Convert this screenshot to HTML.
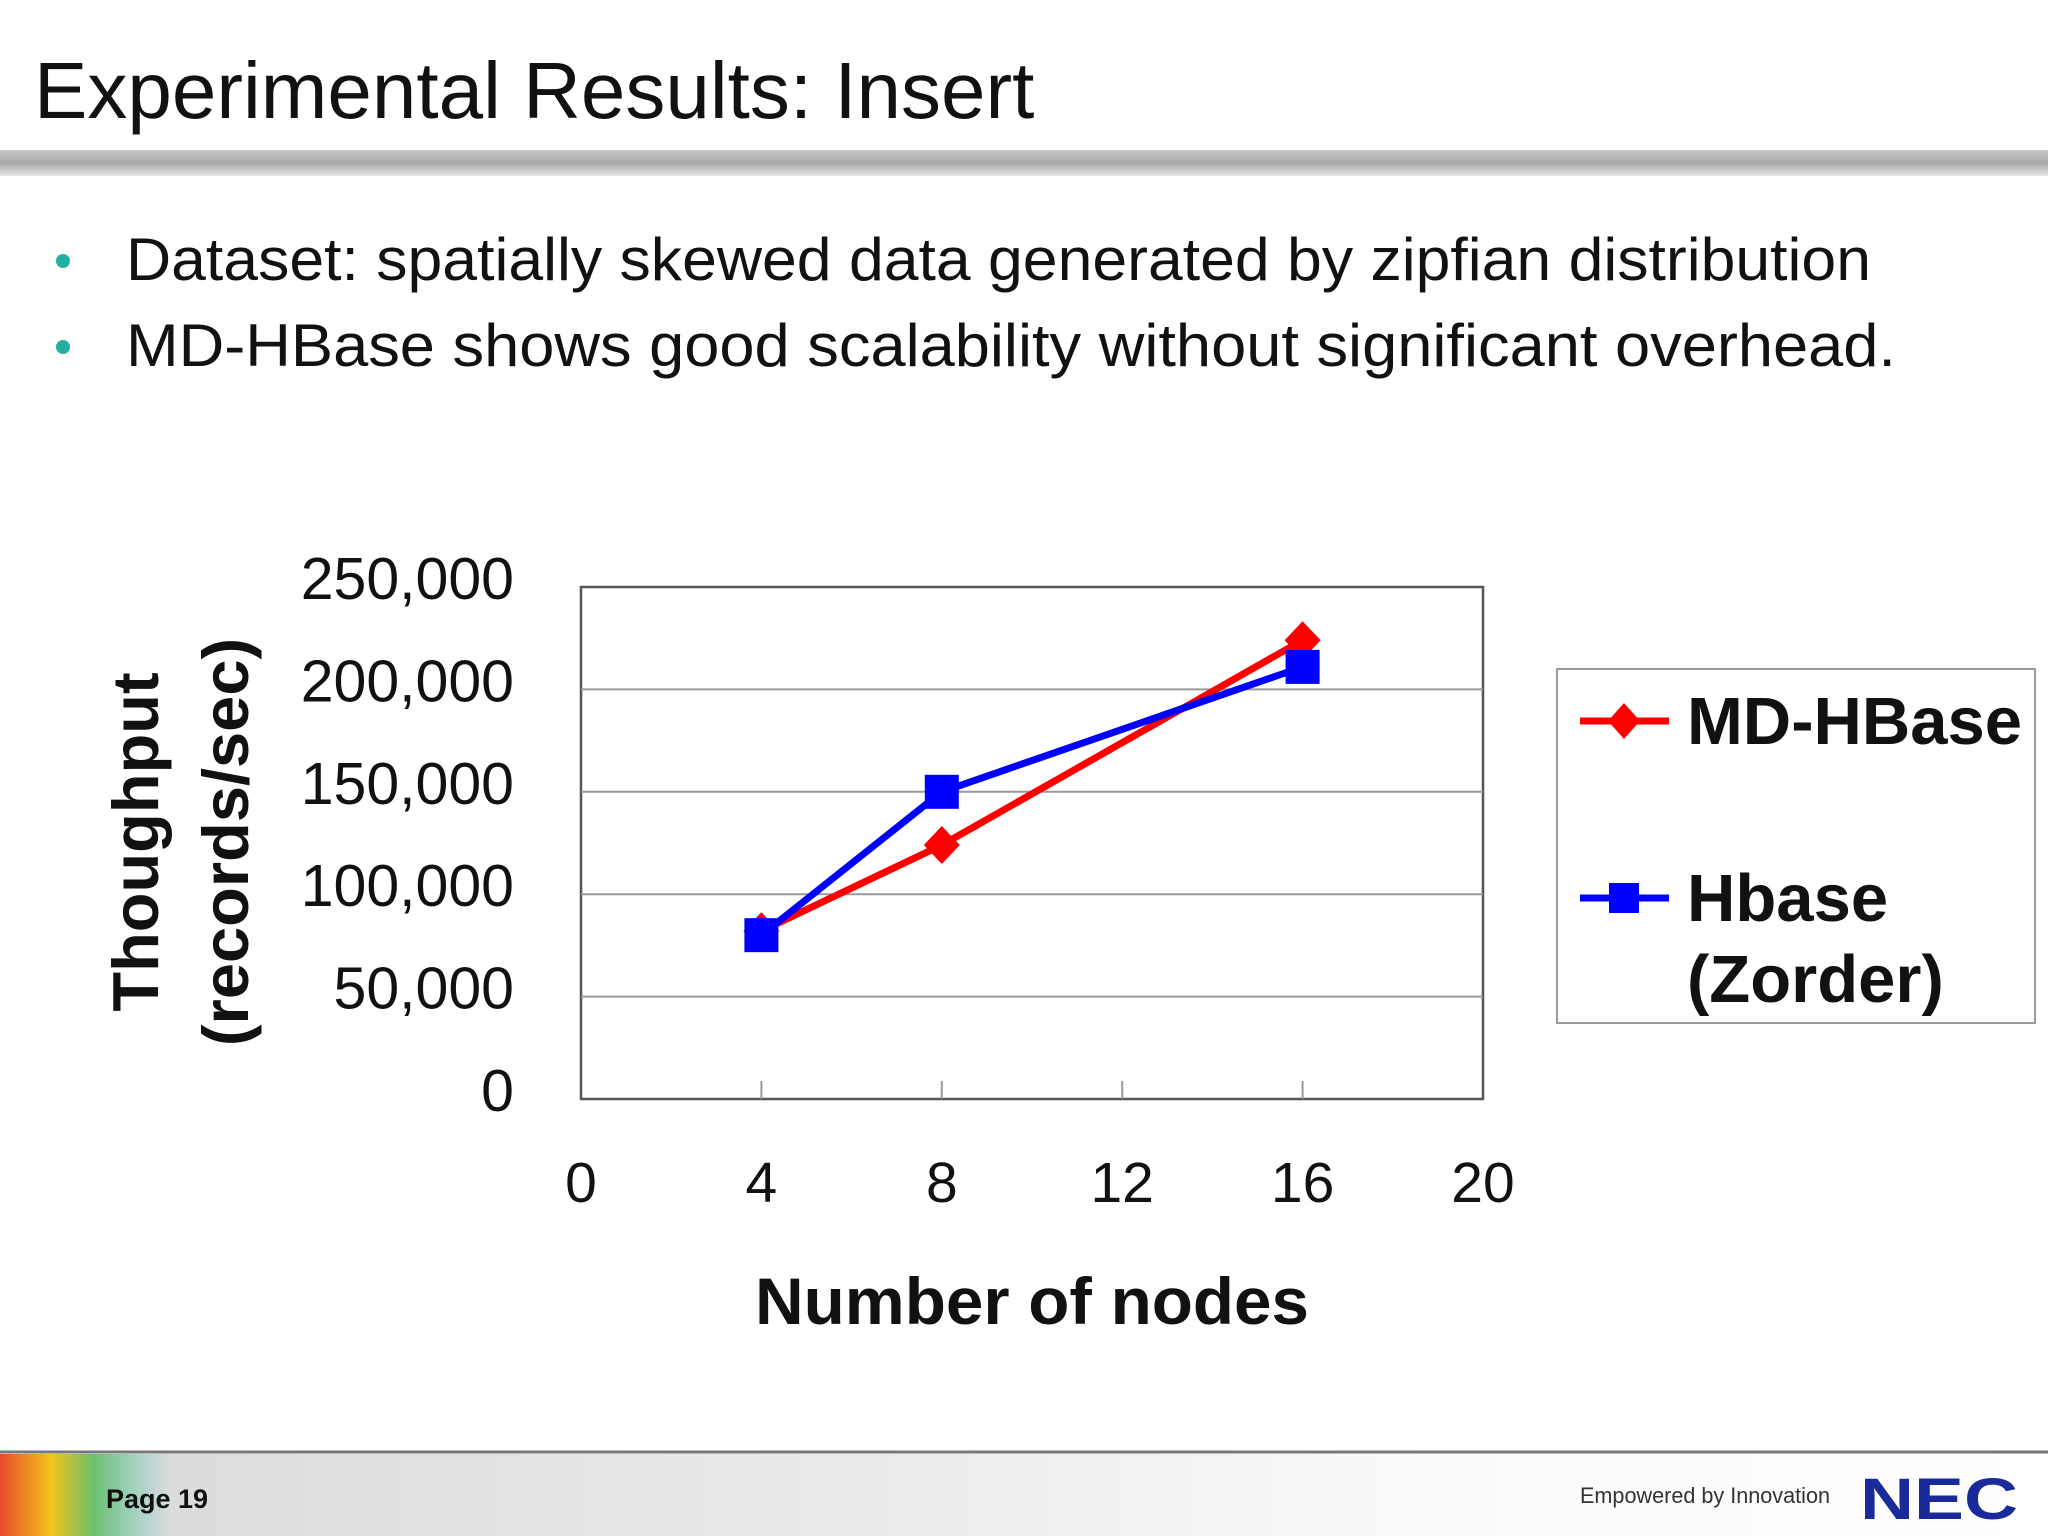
<!DOCTYPE html>
<html><head><meta charset="utf-8"><style>
html,body{margin:0;padding:0;background:#fff}
svg{display:block;font-family:"Liberation Sans",Arial,sans-serif}
</style></head><body>
<svg width="2048" height="1536" viewBox="0 0 2048 1536" xmlns="http://www.w3.org/2000/svg">
<defs>
<linearGradient id="bar" x1="0" y1="0" x2="0" y2="1"><stop offset="0" stop-color="#c8c8c8"/><stop offset="0.5" stop-color="#a9a9a9"/><stop offset="1" stop-color="#e6e6e6"/></linearGradient>
<linearGradient id="foot" x1="0" y1="0" x2="1" y2="0"><stop offset="0" stop-color="#d8d8d8"/><stop offset="0.45" stop-color="#ececec"/><stop offset="0.7" stop-color="#fafafa"/><stop offset="1" stop-color="#ffffff"/></linearGradient>
<linearGradient id="rb" x1="0" y1="0" x2="1" y2="0"><stop offset="0" stop-color="#e84a2a"/><stop offset="0.3" stop-color="#f2c51a"/><stop offset="0.55" stop-color="#6cc06c"/><stop offset="1" stop-color="#5ec8c8" stop-opacity="0"/></linearGradient>
</defs>
<text x="34" y="118" font-size="80" fill="#111">Experimental Results: Insert</text>
<rect x="0" y="150" width="2048" height="26" fill="url(#bar)"/>
<g font-size="60" fill="#111">
<circle cx="63" cy="261" r="7" fill="#22b0a0"/>
<text x="126" y="280" textLength="1745" lengthAdjust="spacingAndGlyphs">Dataset: spatially skewed data generated by zipfian distribution</text>
<circle cx="63" cy="347" r="7" fill="#22b0a0"/>
<text x="126" y="366" textLength="1770" lengthAdjust="spacingAndGlyphs">MD-HBase shows good scalability without  significant overhead.</text>
</g>
<g id="chart"></g>
<g>
<rect x="1557" y="669" width="478" height="354" fill="#fff" stroke="#999" stroke-width="2"/>
<g>
<line x1="1580" y1="721" x2="1669" y2="721" stroke="#ff0000" stroke-width="7"/>
<polygon points="1624,703 1640,721 1624,739 1608,721" fill="#ff0000"/>
<text x="1687" y="744" font-size="67" font-weight="bold" fill="#111">MD-HBase</text>
</g>
<g>
<line x1="1580" y1="898" x2="1669" y2="898" stroke="#0000ff" stroke-width="7"/>
<rect x="1609" y="883" width="30" height="30" fill="#0000ff"/>
<text x="1687" y="921" font-size="67" font-weight="bold" fill="#111">Hbase</text>
<text x="1687" y="1002" font-size="67" font-weight="bold" fill="#111">(Zorder)</text>
</g>
</g>
<line x1="0" y1="1452" x2="2048" y2="1452" stroke="#777" stroke-width="3"/>
<rect x="0" y="1454" width="2048" height="82" fill="url(#foot)"/>
<rect x="0" y="1454" width="170" height="82" fill="url(#rb)"/>
<text x="106" y="1508" font-size="27" font-weight="bold" fill="#111">Page 19</text>
<text x="1580" y="1503" font-size="22" fill="#333" textLength="250" lengthAdjust="spacingAndGlyphs">Empowered by Innovation</text>
<text x="1860" y="1519" font-size="58" font-weight="bold" fill="#1a2a9a" textLength="158" lengthAdjust="spacingAndGlyphs">NEC</text>
</svg>
<script>
const xValues = [4, 8, 16];
const mdHBase = [82000, 124000, 224000];
const hbaseZorder = [80000, 150000, 211000];
const yTicks = [0, 50000, 100000, 150000, 200000, 250000];
const yTickLabels = ["0", "50,000", "100,000", "150,000", "200,000", "250,000"];
const xTicks = [0, 4, 8, 12, 16, 20];

const NS = "http://www.w3.org/2000/svg";
const L = 581, R = 1483, T = 587, B = 1099;
const xs = v => L + (v - 0) / 20 * (R - L);
const ys = v => B - v / 250000 * (B - T);
const g = document.getElementById('chart');
function mk(tag, attrs, parent) {
  const e = document.createElementNS(NS, tag);
  for (const k in attrs) e.setAttribute(k, attrs[k]);
  (parent || g).appendChild(e);
  return e;
}
const frame = mk('rect', {x: L, y: T, width: R - L, height: B - T, fill: '#fff', stroke: '#555', 'stroke-width': 2.5});


yTicks.forEach((v, i) => {
  if (v > 0 && v < 250000) {
    const gl = mk('line', {x1: L, x2: R, y1: ys(v), y2: ys(v), stroke: '#999', 'stroke-width': 2});
    
    
  }
  const t = mk('text', {x: 514, y: ys(v) + 12, 'text-anchor': 'end', 'font-size': 59, fill: '#111'});
  t.textContent = yTickLabels[i];
  
  
});
xTicks.forEach(v => {
  if (v > 0 && v < 20) {
    const tk = mk('line', {x1: xs(v), x2: xs(v), y1: B - 18, y2: B, stroke: '#999', 'stroke-width': 2});
    
    
  }
  const t = mk('text', {x: xs(v), y: 1202, 'text-anchor': 'middle', 'font-size': 57, fill: '#111'});
  t.textContent = String(v);
  
  
});
const xt = mk('text', {x: 1032, y: 1324, 'text-anchor': 'middle', 'font-size': 66, 'font-weight': 'bold', fill: '#111', textLength: 554, lengthAdjust: 'spacingAndGlyphs'});
xt.textContent = 'Number of nodes';


const yt1 = mk('text', {transform: 'translate(158,842) rotate(-90)', 'text-anchor': 'middle', 'font-size': 65, 'font-weight': 'bold', fill: '#111'});
yt1.textContent = 'Thoughput';


const yt2 = mk('text', {transform: 'translate(248,842) rotate(-90)', 'text-anchor': 'middle', 'font-size': 65, 'font-weight': 'bold', fill: '#111'});
yt2.textContent = '(records/sec)';



const pts = arr => xValues.map((x, i) => xs(x) + ',' + ys(arr[i])).join(' ');
const redLine = mk('polyline', {points: pts(mdHBase), fill: 'none', stroke: '#ff0000', 'stroke-width': 7, 'stroke-linejoin': 'round'});


const blueLine = mk('polyline', {points: pts(hbaseZorder), fill: 'none', stroke: '#0000ff', 'stroke-width': 7, 'stroke-linejoin': 'round'});


xValues.forEach((x, i) => {
  const cx = xs(x), cy = ys(mdHBase[i]);
  const d = mk('polygon', {points: `${cx},${cy-19} ${cx+18},${cy} ${cx},${cy+19} ${cx-18},${cy}`, fill: '#ff0000'});
  
  
});
xValues.forEach((x, i) => {
  const cx = xs(x), cy = ys(hbaseZorder[i]);
  const s = mk('rect', {x: cx - 17, y: cy - 17, width: 34, height: 34, fill: '#0000ff'});
  
  
});
</script>
</body></html>
